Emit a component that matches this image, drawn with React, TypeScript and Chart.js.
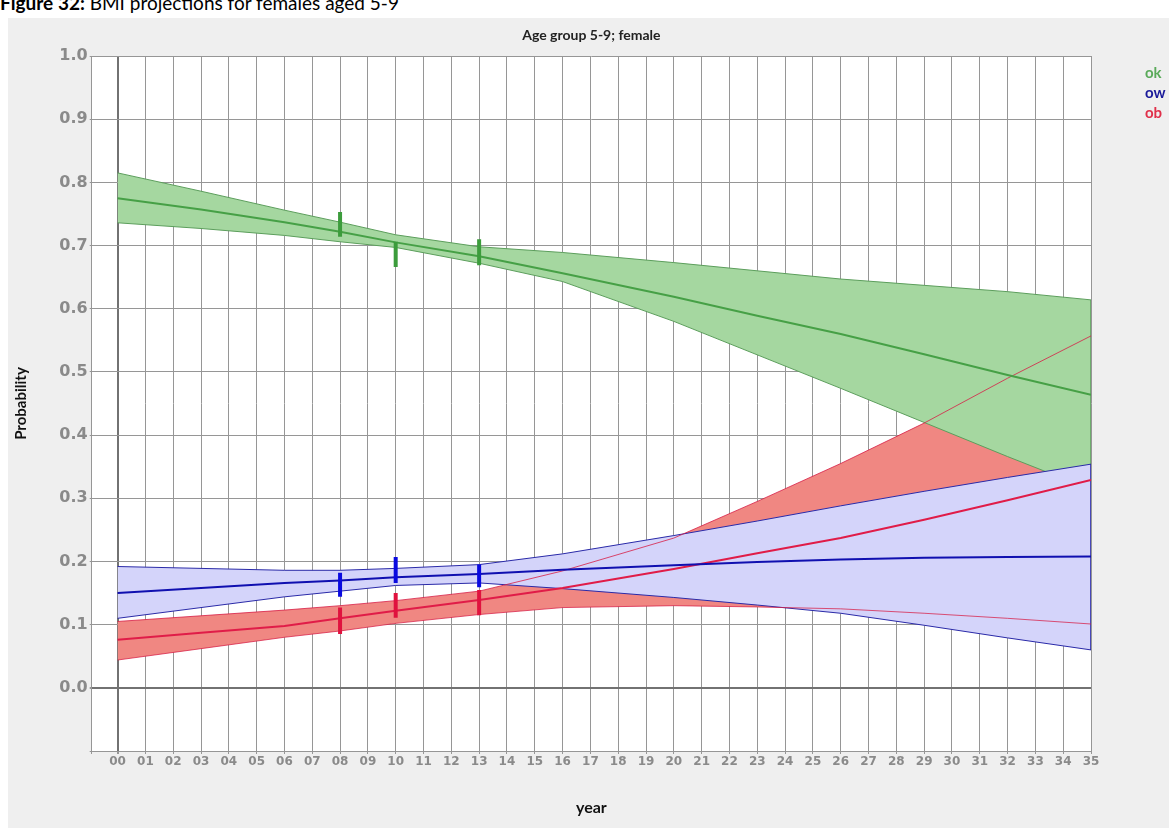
import React, { useEffect, useRef } from "react";
import { Chart, registerables } from "chart.js";

Chart.register(...registerables);

// Projection knots (years since 2000) shared by every band and central line
const years = [0, 3, 6, 8, 10, 13, 16, 20, 23, 26, 29, 32, 35];

// "ok" (normal weight) probability with confidence band
const okUpper = [0.815, 0.786, 0.756, 0.737, 0.717, 0.698, 0.689, 0.673, 0.66, 0.647, 0.637, 0.627, 0.614];
const okMid = [0.775, 0.757, 0.737, 0.722, 0.705, 0.683, 0.656, 0.619, 0.589, 0.56, 0.528, 0.495, 0.464];
const okLower = [0.736, 0.727, 0.716, 0.706, 0.697, 0.672, 0.643, 0.58, 0.527, 0.474, 0.42, 0.366, 0.314];

// "ow" (overweight)
const owUpper = [0.192, 0.189, 0.186, 0.186, 0.189, 0.195, 0.212, 0.241, 0.264, 0.288, 0.311, 0.333, 0.354];
const owMid = [0.15, 0.158, 0.166, 0.17, 0.175, 0.18, 0.187, 0.194, 0.199, 0.203, 0.206, 0.207, 0.208];
const owLower = [0.11, 0.127, 0.144, 0.153, 0.162, 0.166, 0.157, 0.143, 0.131, 0.118, 0.099, 0.079, 0.06];

// "ob" (obese)
const obUpper = [0.105, 0.114, 0.123, 0.13, 0.138, 0.153, 0.185, 0.237, 0.295, 0.355, 0.419, 0.49, 0.557];
const obMid = [0.076, 0.087, 0.098, 0.11, 0.122, 0.139, 0.158, 0.188, 0.213, 0.237, 0.266, 0.297, 0.329];
const obLower = [0.044, 0.062, 0.08, 0.09, 0.102, 0.116, 0.127, 0.13, 0.128, 0.125, 0.118, 0.11, 0.101];

// Survey observations: year and interval per category
const surveyYears = [8, 10, 13];
const okSurveyLow = [0.714, 0.666, 0.669];
const okSurveyHigh = [0.753, 0.706, 0.71];
const owSurveyLow = [0.144, 0.166, 0.159];
const owSurveyHigh = [0.182, 0.207, 0.195];
const obSurveyLow = [0.085, 0.111, 0.115];
const obSurveyHigh = [0.127, 0.15, 0.155];

// Axis tick labels
const yearLabels = [
  "00", "01", "02", "03", "04", "05", "06", "07", "08", "09",
  "10", "11", "12", "13", "14", "15", "16", "17", "18", "19",
  "20", "21", "22", "23", "24", "25", "26", "27", "28", "29",
  "30", "31", "32", "33", "34", "35",
];
const probTicks = [-0.1, 0, 0.1, 0.2, 0.3, 0.4, 0.5, 0.6, 0.7, 0.8, 0.9, 1.0];

const legendNames = ["ok", "ow", "ob"];
const legendColors = ["#5aaa5a", "#1a1a9a", "#e0304a"];

const X_MIN = -0.93;
const X_MAX = 35;

const GREEN_FILL = "rgb(165,215,160)";
const BLUE_FILL = "rgb(212,212,250)";
const RED_FILL = "rgb(240,135,130)";

const pts = (vals: number[]) => years.map((x, i) => ({ x, y: vals[i] }));
const bars = (lo: number[], hi: number[]) =>
  surveyYears.flatMap((x, i) => [
    { x, y: lo[i] },
    { x, y: hi[i] },
    { x, y: null as number | null },
  ]);
// closing edge of a band at the last projected year
const lastEdge = (lo: number[], hi: number[]) => {
  const k = years.length - 1;
  return [
    { x: years[k], y: lo[k] },
    { x: years[k], y: hi[k] },
  ];
};

const plotBackground = {
  id: "plotBackground",
  beforeDraw(chart: any) {
    const { ctx, chartArea } = chart;
    ctx.save();
    ctx.fillStyle = "#ffffff";
    ctx.fillRect(chartArea.left, chartArea.top, chartArea.right - chartArea.left, chartArea.bottom - chartArea.top);
    ctx.restore();
  },
};

const headerTitle = {
  id: "headerTitle",
  afterDraw(chart: any) {
    const { ctx, chartArea } = chart;
    ctx.save();
    ctx.font = "bold 14px Lato, 'Open Sans', sans-serif";
    ctx.fillStyle = "#222222";
    ctx.textAlign = "center";
    ctx.textBaseline = "middle";
    ctx.fillText("Age group 5-9; female", (chartArea.left + chartArea.right) / 2, 17);
    ctx.restore();
  },
};

export default function App() {
  const canvasRef = useRef<HTMLCanvasElement | null>(null);

  useEffect(() => {
    if (!canvasRef.current) return;
    const base = { pointRadius: 0, pointHoverRadius: 0, tension: 0, fill: false as any };
    const bar = { ...base, borderWidth: 4, spanGaps: false, borderCapStyle: "butt" as const, order: 0 };

    const chart = new Chart(canvasRef.current, {
      type: "line",
      data: {
        datasets: [
          // obese band area (lowest layer)
          { ...base, label: "ob band", data: pts(obUpper), borderWidth: 0, borderColor: "rgba(0,0,0,0)", fill: "+1", backgroundColor: RED_FILL, order: 10 },
          { ...base, label: "ob band base", data: pts(obLower), borderWidth: 0, borderColor: "rgba(0,0,0,0)", order: 10 },
          // normal band
          { ...base, label: "ok upper", data: pts(okUpper), borderColor: "#5c9e5c", borderWidth: 1, fill: "+1", backgroundColor: GREEN_FILL, order: 9 },
          { ...base, label: "ok lower", data: pts(okLower), borderColor: "#5c9e5c", borderWidth: 1, order: 8.9 },
          { ...base, label: "ok edge", data: lastEdge(okLower, okUpper), borderColor: "#5c9e5c", borderWidth: 1.5, order: 8.8 },
          // overweight band
          { ...base, label: "ow upper", data: pts(owUpper), borderColor: "#2a2aa8", borderWidth: 1, fill: "+1", backgroundColor: BLUE_FILL, order: 8 },
          { ...base, label: "ow lower", data: pts(owLower), borderColor: "#2a2aa8", borderWidth: 1, order: 7.9 },
          { ...base, label: "ow edge", data: lastEdge(owLower, owUpper), borderColor: "#1a1aa0", borderWidth: 1.5, order: 7.8 },
          // obese band limits
          { ...base, label: "ob upper", data: pts(obUpper), borderColor: "rgba(215,30,70,0.8)", borderWidth: 1, order: 7 },
          { ...base, label: "ob lower", data: pts(obLower), borderColor: "rgba(215,30,70,0.75)", borderWidth: 1, order: 7 },
          // central projections
          { ...base, label: "ok", data: pts(okMid), borderColor: "#46a046", borderWidth: 2, order: 1 },
          { ...base, label: "ow", data: pts(owMid), borderColor: "#1010b0", borderWidth: 2, order: 1 },
          { ...base, label: "ob", data: pts(obMid), borderColor: "#e01c48", borderWidth: 2, order: 1 },
          // survey intervals
          { ...bar, label: "ok survey", data: bars(okSurveyLow, okSurveyHigh) as any, borderColor: "#3c9c3c" },
          { ...bar, label: "ow survey", data: bars(owSurveyLow, owSurveyHigh) as any, borderColor: "#0a0ae0" },
          { ...bar, label: "ob survey", data: bars(obSurveyLow, obSurveyHigh) as any, borderColor: "#e0123e" },
        ],
      },
      options: {
        responsive: false,
        animation: false,
        events: [],
        layout: { padding: { left: 0, top: 38, right: 78, bottom: 0 } },
        plugins: {
          legend: { display: false },
          tooltip: { enabled: false },
          title: { display: false },
          filler: { drawTime: "beforeDatasetDraw", propagate: false },
        },
        scales: {
          x: {
            type: "linear",
            min: X_MIN,
            max: X_MAX,
            afterBuildTicks: (scale: any) => {
              scale.ticks = [{ value: X_MIN }, ...yearLabels.map((_, i) => ({ value: i }))];
            },
            afterFit: (scale: any) => {
              scale.height = 77;
            },
            ticks: {
              autoSkip: false,
              maxRotation: 0,
              padding: 1,
              color: "#8a8a8a",
              font: { family: "'DejaVu Sans', Verdana, sans-serif", size: 12, weight: "bold" },
              callback: (v: any) => (v < 0 ? "" : yearLabels[Math.round(v)]),
            },
            grid: {
              color: (ctx: any) => (ctx.tick && ctx.tick.value === 0 ? "#727272" : "#969696"),
              lineWidth: (ctx: any) => (ctx.tick && ctx.tick.value === 0 ? 2 : 1),
              tickLength: 3,
              tickColor: "#969696",
            },
            border: { display: true, color: "#969696", width: 1 },
            title: {
              display: true,
              text: "year",
              color: "#111111",
              font: { family: "Lato, 'Open Sans', sans-serif", size: 16, weight: "bold" },
              padding: { top: 0, bottom: 11 },
            },
          },
          y: {
            type: "linear",
            min: -0.1,
            max: 1.0,
            afterBuildTicks: (scale: any) => {
              scale.ticks = probTicks.map((value) => ({ value }));
            },
            afterFit: (scale: any) => {
              scale.width = 83.7;
            },
            ticks: {
              padding: 2,
              color: "#8a8a8a",
              font: { family: "'DejaVu Sans', Verdana, sans-serif", size: 16, weight: "bold" },
              callback: (v: any) => (v < -0.05 ? "" : Number(v).toFixed(1)),
            },
            grid: {
              color: (ctx: any) => (ctx.tick && Math.abs(ctx.tick.value) < 1e-9 ? "#727272" : "#969696"),
              lineWidth: (ctx: any) => (ctx.tick && Math.abs(ctx.tick.value) < 1e-9 ? 2 : 1),
              tickLength: 2,
              tickColor: "#969696",
            },
            border: { display: true, color: "#969696", width: 1 },
            title: {
              display: true,
              text: "Probability",
              color: "#111111",
              font: { family: "Lato, 'Open Sans', sans-serif", size: 15, weight: "bold" },
              padding: { top: 4.5, bottom: 0 },
            },
          },
        },
      },
      plugins: [plotBackground, headerTitle],
    });

    return () => chart.destroy();
  }, []);

  return (
    <div
      style={{
        position: "fixed",
        left: 0,
        top: 0,
        width: 1169,
        height: 828,
        background: "#ffffff",
        overflow: "hidden",
      }}
    >
      <div
        style={{
          position: "absolute",
          left: 0,
          top: -8,
          fontFamily: "Lato, 'Open Sans', sans-serif",
          fontSize: 19,
          lineHeight: "22px",
          whiteSpace: "nowrap",
          color: "#000000",
        }}
      >
        <b>Figure 32:</b> BMI projections for females aged 5-9
      </div>
      <div
        style={{
          position: "absolute",
          left: 8,
          top: 18,
          width: 1161,
          height: 810,
          background: "#efefef",
        }}
      >
        <canvas ref={canvasRef} width={1161} height={810} style={{ display: "block", width: 1161, height: 810 }} />
        {legendNames.map((name, i) => (
          <div
            key={name}
            style={{
              position: "absolute",
              left: 1137,
              top: 45 + i * 20,
              height: 18,
              lineHeight: "18px",
              fontFamily: "Lato, 'Open Sans', sans-serif",
              fontSize: 15,
              fontWeight: "bold",
              color: legendColors[i],
              whiteSpace: "nowrap",
            }}
          >
            {name}
          </div>
        ))}
      </div>
    </div>
  );
}
